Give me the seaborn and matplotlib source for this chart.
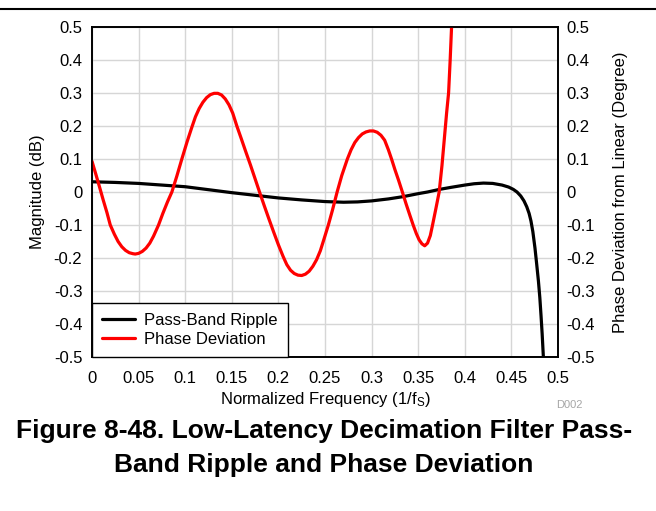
import matplotlib
matplotlib.use("Agg")
import matplotlib.pyplot as plt
import seaborn as sns
import pandas as pd
from matplotlib.lines import Line2D

# ---- data ----
ripple_f = [0.000, 0.025, 0.050, 0.075, 0.100, 0.125, 0.150, 0.175, 0.200, 0.225,
            0.250, 0.270, 0.285, 0.300, 0.318, 0.334, 0.350, 0.360, 0.373, 0.385,
            0.400, 0.410, 0.420, 0.430, 0.440, 0.447, 0.452, 0.456, 0.460, 0.4635,
            0.4665, 0.469, 0.471, 0.473, 0.4753, 0.477, 0.479, 0.4805, 0.4818, 0.483,
            0.4843, 0.4855]
ripple_db = [0.031, 0.029, 0.026, 0.021, 0.016, 0.007, -0.002, -0.010, -0.018, -0.024,
             -0.029, -0.031, -0.030, -0.027, -0.021, -0.014, -0.005, 0.000, 0.008, 0.014,
             0.021, 0.025, 0.027, 0.026, 0.021, 0.015, 0.008, 0.000, -0.012, -0.027,
             -0.045, -0.065, -0.088, -0.120, -0.170, -0.215, -0.270, -0.320, -0.375, -0.430,
             -0.500, -0.570]

phase_f = [0.000, 0.004, 0.008, 0.012, 0.016, 0.0196, 0.024, 0.028, 0.032, 0.036,
           0.040, 0.044, 0.0464, 0.050, 0.054, 0.058, 0.062, 0.066, 0.0714, 0.076,
           0.081, 0.0857, 0.091, 0.0964, 0.102, 0.1071, 0.111, 0.115, 0.119, 0.123,
           0.127, 0.131, 0.135, 0.139, 0.143, 0.147, 0.151, 0.1554, 0.160, 0.165,
           0.170, 0.175, 0.180, 0.185, 0.190, 0.195, 0.200, 0.205, 0.209, 0.213,
           0.217, 0.221, 0.225, 0.229, 0.233, 0.237, 0.241, 0.245, 0.249, 0.2536,
           0.258, 0.263, 0.268, 0.274, 0.278, 0.282, 0.286, 0.290, 0.294, 0.298,
           0.302, 0.306, 0.310, 0.314, 0.318, 0.3214, 0.325, 0.329, 0.333, 0.337,
           0.341, 0.3446, 0.348, 0.351, 0.354, 0.357, 0.360, 0.363, 0.3654, 0.369,
           0.3725, 0.3755, 0.378, 0.3805, 0.3826, 0.3843, 0.3858, 0.3875]
phase_deg = [0.093, 0.055, 0.016, -0.024, -0.062, -0.100, -0.128, -0.150, -0.166, -0.177,
             -0.184, -0.187, -0.188, -0.186, -0.180, -0.170, -0.155, -0.134, -0.100, -0.065,
             -0.030, 0.000, 0.048, 0.100, 0.152, 0.196, 0.228, 0.253, 0.272, 0.286,
             0.295, 0.299, 0.299, 0.294, 0.282, 0.264, 0.239, 0.200, 0.163, 0.122,
             0.082, 0.040, -0.002, -0.043, -0.083, -0.122, -0.160, -0.195, -0.220, -0.237,
             -0.247, -0.252, -0.253, -0.249, -0.240, -0.225, -0.205, -0.178, -0.142, -0.100,
             -0.055, 0.000, 0.050, 0.100, 0.128, 0.150, 0.165, 0.176, 0.182, 0.185,
             0.185, 0.181, 0.172, 0.157, 0.128, 0.100, 0.068, 0.035, 0.000, -0.036,
             -0.070, -0.100, -0.126, -0.145, -0.157, -0.163, -0.155, -0.132, -0.100, -0.050,
             0.000, 0.080, 0.160, 0.240, 0.300, 0.400, 0.500, 0.620]

x_ticks = [0, 0.05, 0.1, 0.15, 0.2, 0.25, 0.3, 0.35, 0.4, 0.45, 0.5]
x_tick_labels = ["0", "0.05", "0.1", "0.15", "0.2", "0.25", "0.3", "0.35", "0.4", "0.45", "0.5"]
y_ticks = [0.5, 0.4, 0.3, 0.2, 0.1, 0, -0.1, -0.2, -0.3, -0.4, -0.5]
y_tick_labels = ["0.5", "0.4", "0.3", "0.2", "0.1", "0", "-0.1", "-0.2", "-0.3", "-0.4", "-0.5"]

series_names = ["Pass-Band Ripple", "Phase Deviation"]
series_colors = ["#000000", "#ff0000"]

title_line1 = "Figure 8-48. Low-Latency Decimation Filter Pass-"
title_line2 = "Band Ripple and Phase Deviation"

# ---- plotting ----
sns.set_style("white")
plt.rcParams["font.family"] = ["Liberation Sans", "DejaVu Sans"]
plt.rcParams["mathtext.fontset"] = "custom"
plt.rcParams["mathtext.rm"] = "Liberation Sans"
plt.rcParams["mathtext.it"] = "Liberation Sans"
for k in ("text.color", "axes.labelcolor", "xtick.color", "ytick.color"):
    plt.rcParams[k] = "black"

W, H = 656, 511
fig = plt.figure(figsize=(W / 100, H / 100), dpi=100)
L, R, T, B = 92, 558, 27, 357
ax = fig.add_axes([L / W, 1 - B / H, (R - L) / W, (B - T) / H])
ax2 = ax.twinx()

df_r = pd.DataFrame({"f": ripple_f, "v": ripple_db})
df_p = pd.DataFrame({"f": phase_f, "v": phase_deg})

sns.lineplot(data=df_r, x="f", y="v", ax=ax, color=series_colors[0], lw=2.3,
             estimator=None, sort=False, legend=False)
sns.lineplot(data=df_p, x="f", y="v", ax=ax2, color=series_colors[1], lw=2.3,
             estimator=None, sort=False, legend=False)

tick_fs = 12
for a in (ax, ax2):
    a.set_xlim(0, 0.5)
    a.set_ylim(-0.5, 0.5)
    a.set_yticks(y_ticks)
    a.set_yticklabels(y_tick_labels)
    for s in a.spines.values():
        s.set_color("black")
        s.set_linewidth(1.2)

ax.set_xticks(x_ticks)
ax.set_xticklabels(x_tick_labels)
ax.grid(True, color="#d6d6d6", lw=1.0)
ax.set_axisbelow(True)
ax.tick_params(axis="both", length=0, labelsize=tick_fs)
ax.tick_params(axis="y", pad=7)
ax.tick_params(axis="x", pad=10)
ax2.tick_params(axis="y", length=0, labelsize=tick_fs, pad=6)

ax.set_xlabel(r"Normalized Frequency (1/f$_\mathregular{S}$)", fontsize=tick_fs, labelpad=3)
ax.set_ylabel("Magnitude (dB)", fontsize=tick_fs, labelpad=6)
ax2.set_ylabel("Phase Deviation from Linear (Degree)", fontsize=tick_fs, labelpad=13)

handles = [Line2D([0], [0], color=c, lw=2.3) for c in series_colors]
leg = ax2.legend(handles, series_names, loc="lower left", bbox_to_anchor=(0, 0),
                 fontsize=tick_fs, frameon=True, fancybox=False, framealpha=1,
                 edgecolor="black", borderaxespad=0, handlelength=2.0,
                 handletextpad=0.55, borderpad=0.6, labelspacing=0.25)
leg.get_frame().set_linewidth(1.0)

# top rule
fig.add_artist(Line2D([0, 1], [1 - 9.5 / H, 1 - 9.5 / H], color="black", lw=1.5,
                      transform=fig.transFigure))

fig.text(569 / W, 1 - 405 / H, "D002", color="#a6a6a6", fontsize=8,
         ha="center", va="center")
fig.text(324 / W, 1 - 431 / H, title_line1, fontsize=19, fontweight="bold",
         ha="center", va="center")
fig.text(324 / W, 1 - 465 / H, title_line2, fontsize=19, fontweight="bold",
         ha="center", va="center")

fig.savefig("out.png", dpi=100)
